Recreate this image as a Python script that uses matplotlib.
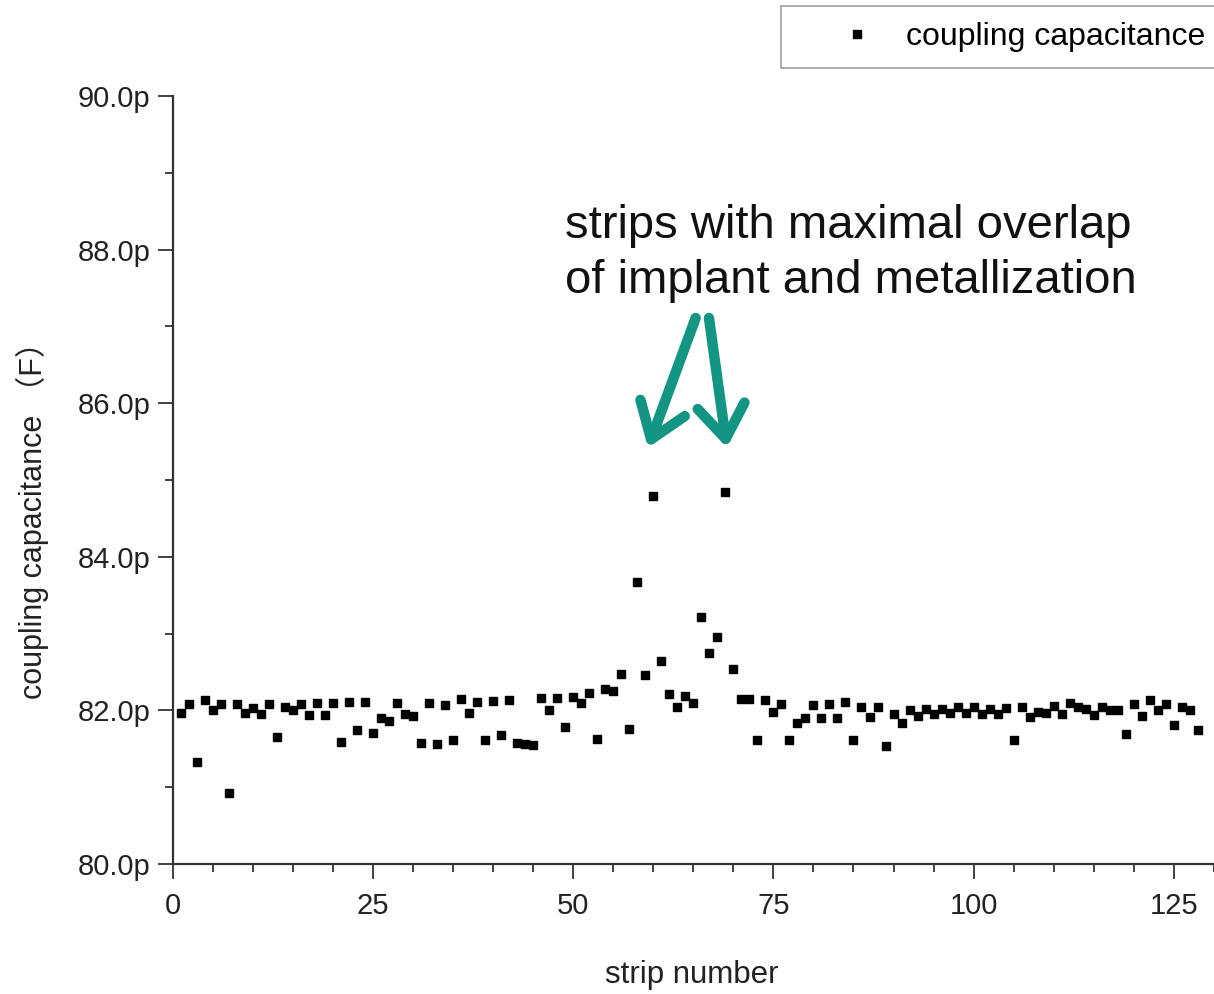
import matplotlib
matplotlib.use("Agg")
import matplotlib.pyplot as plt
from matplotlib.ticker import MultipleLocator, FuncFormatter

# strip index and measured coupling capacitance (pF)
strip = list(range(1, 129))
cap_pf = [
    81.97, 82.08, 81.33, 82.13, 82.00, 82.08, 80.92, 82.08, 81.97, 82.03,
    81.95, 82.08, 81.66, 82.05, 82.00, 82.08, 81.94, 82.10, 81.94, 82.09,
    81.59, 82.11, 81.74, 82.11, 81.71, 81.90, 81.86, 82.10, 81.95, 81.93,
    81.57, 82.10, 81.56, 82.07, 81.61, 82.15, 81.97, 82.11, 81.61, 82.12,
    81.68, 82.14, 81.57, 81.56, 81.55, 82.16, 82.00, 82.16, 81.78, 82.17,
    82.10, 82.23, 81.63, 82.28, 82.25, 82.48, 81.76, 83.67, 82.46, 84.79,
    82.64, 82.22, 82.04, 82.19, 82.10, 83.22, 82.75, 82.95, 84.84, 82.54,
    82.15, 82.15, 81.61, 82.13, 81.98, 82.08, 81.61, 81.84, 81.90, 82.07,
    81.90, 82.08, 81.90, 82.11, 81.61, 82.04, 81.92, 82.05, 81.53, 81.95,
    81.84, 82.00, 81.93, 82.02, 81.95, 82.02, 81.97, 82.04, 81.97, 82.04,
    81.95, 82.02, 81.95, 82.03, 81.62, 82.05, 81.92, 81.98, 81.97, 82.06,
    81.95, 82.09, 82.05, 82.02, 81.94, 82.05, 82.01, 82.01, 81.69, 82.08,
    81.93, 82.13, 82.01, 82.08, 81.81, 82.05, 82.01, 81.74,
]

note = "strips with maximal overlap\nof implant and metallization"
teal = "#129683"

plt.rcParams["font.family"] = ["Liberation Sans", "Noto Sans CJK SC", "DejaVu Sans"]

fig = plt.figure(figsize=(12.14, 9.94), dpi=100)
ax = fig.add_axes([172.5 / 1214, 1 - 864 / 994, (1214 - 172.5) / 1214, 768 / 994])

ax.plot(strip, cap_pf, "s", color="black", markersize=6.3, label="coupling capacitance")

ax.set_xlim(0, 130)
ax.set_ylim(80, 90)
ax.xaxis.set_major_locator(MultipleLocator(25))
ax.xaxis.set_minor_locator(MultipleLocator(5))
ax.yaxis.set_major_locator(MultipleLocator(2))
ax.yaxis.set_minor_locator(MultipleLocator(1))
ax.yaxis.set_major_formatter(FuncFormatter(lambda v, p: f"{v:.1f}p"))

for s in ["top", "right"]:
    ax.spines[s].set_visible(False)
for s in ["left", "bottom"]:
    ax.spines[s].set_color("#333333")
    ax.spines[s].set_linewidth(1.6)

ax.tick_params(which="major", length=11, width=1.3, color="#333333", labelsize=21,
               labelcolor="#222222", pad=5)
ax.tick_params(which="minor", length=6, width=1.3, color="#333333")
ax.tick_params(axis="x", which="major", pad=9)

# annotation and arrows
ax.text(49.0, 87.95, note, fontsize=34, va="center", ha="left", linespacing=1.3,
        color="#111111")
arrow = dict(arrowstyle="->,head_length=1.2,head_width=0.85", lw=7.5,
             color=teal, shrinkA=0, shrinkB=0, mutation_scale=20)
ax.annotate("", xy=(59.35, 85.42), xytext=(65.3, 87.11), arrowprops=arrow)
ax.annotate("", xy=(69.2, 85.42), xytext=(66.96, 87.11), arrowprops=arrow)

fig.text(32 / 1214, 1 - 513 / 994, "coupling capacitance （F）", rotation=90,
         fontsize=22, ha="center", va="center", color="#222222")
fig.text(692 / 1214, 1 - 975 / 994, "strip number", fontsize=22.5,
         ha="center", va="center", color="#222222")

leg = ax.legend(loc="upper left", bbox_to_anchor=(781 / 1214, 1 - 6 / 994),
                bbox_transform=fig.transFigure, fontsize=23, frameon=True,
                fancybox=False, numpoints=1, handlelength=3.75, handletextpad=-0.35,
                borderpad=0.5, borderaxespad=0, markerscale=0.85)
leg.get_frame().set_edgecolor("#888888")
leg.get_frame().set_linewidth(1.2)

fig.savefig("out.png", dpi=100)
